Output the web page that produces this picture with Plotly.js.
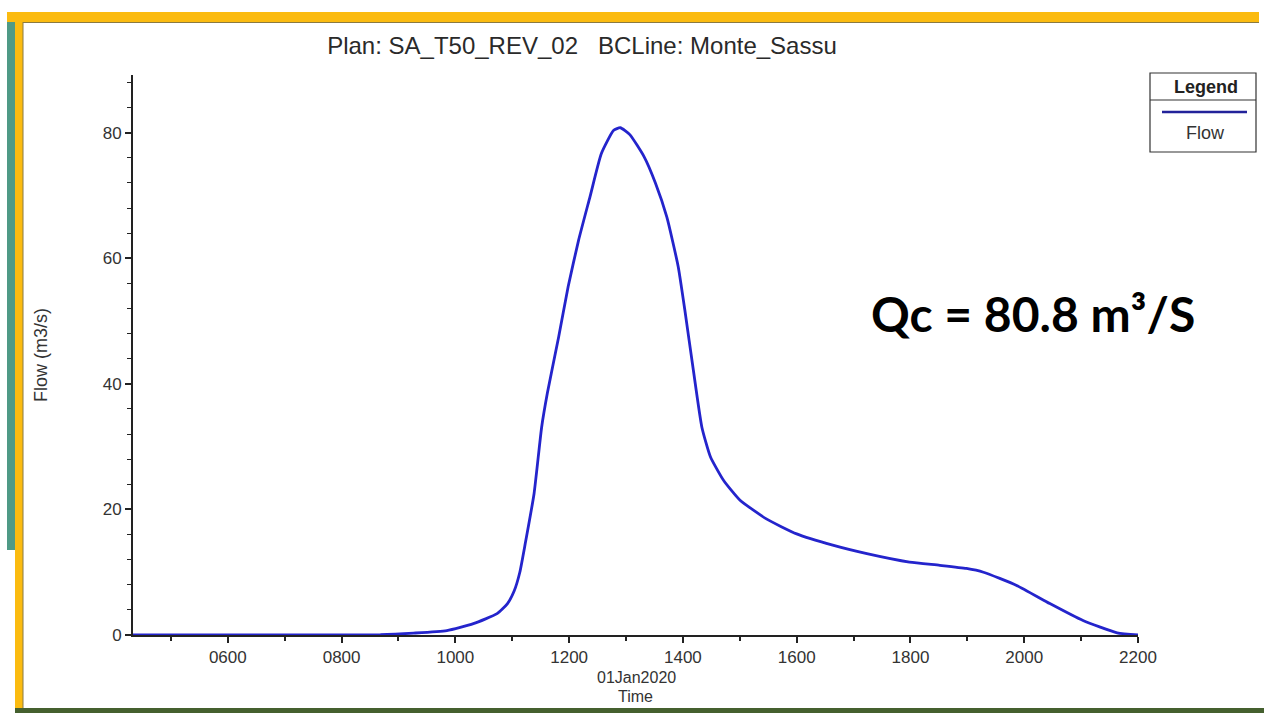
<!DOCTYPE html>
<html>
<head>
<meta charset="utf-8">
<script src="https://cdn.plot.ly/plotly-3.0.1.min.js"></script>
<style>
html,body{margin:0;padding:0;background:#fff;}
#chart{width:1264px;height:713px;}
</style>
</head>
<body>
<div id="chart"></div>
<script>
// ---- data ----
const seriesName = "Flow";
const times = [
  "2020-01-01 04:00","2020-01-01 08:41","2020-01-01 09:16","2020-01-01 09:51","2020-01-01 10:19",
  "2020-01-01 10:44","2020-01-01 10:55","2020-01-01 11:02","2020-01-01 11:08","2020-01-01 11:14",
  "2020-01-01 11:23","2020-01-01 11:31","2020-01-01 11:37","2020-01-01 11:49","2020-01-01 11:59",
  "2020-01-01 12:10","2020-01-01 12:22","2020-01-01 12:34","2020-01-01 12:47","2020-01-01 12:54",
  "2020-01-01 13:04","2020-01-01 13:19","2020-01-01 13:31","2020-01-01 13:43","2020-01-01 13:55",
  "2020-01-01 14:02","2020-01-01 14:11","2020-01-01 14:20","2020-01-01 14:29","2020-01-01 14:43",
  "2020-01-01 15:00","2020-01-01 15:28","2020-01-01 16:00","2020-01-01 16:38","2020-01-01 17:14",
  "2020-01-01 17:59","2020-01-01 18:31","2020-01-01 18:59","2020-01-01 19:17","2020-01-01 19:52",
  "2020-01-01 20:27","2020-01-01 21:02","2020-01-01 21:38","2020-01-01 22:00"
];
const flow = [
  0, 0.05, 0.3, 0.7, 1.8,
  3.4, 5.0, 7.0, 10.0, 14.8,
  22.5, 33.1, 38.5, 47.5, 55.5,
  62.9, 69.8, 76.7, 80.4, 80.8,
  79.7, 76.2, 72.0, 66.6, 58.7,
  51.8, 42.2, 33.1, 28.4, 24.6,
  21.5, 18.5, 16.1, 14.3, 12.95,
  11.6, 11.1, 10.6, 10.0, 7.9,
  5.0, 2.3, 0.35, 0
];
const xRange = ["2020-01-01 04:20", "2020-01-01 22:00"];
const yRange = [0, 89.2];
const yTickStep = 20;
const chartTitle = "Plan: SA_T50_REV_02&nbsp;&nbsp;&nbsp;BCLine: Monte_Sassu";
const xTitle = "Time";
const dateLabel = "01Jan2020";
const yTitle = "Flow (m3/s)";
const legendHeader = "Legend";
const noteText = "Qc = 80.8 m³/S";

// ---- layout geometry (pixels) ----
const W = 1264, H = 713;
const L = 133, R = 1138, T = 75, B = 635;
const px = x => (x - L) / (R - L);
const py = y => (B - y) / (B - T);
const FONT = "Liberation Sans, Arial, sans-serif";

const frameShapes = [
  {type:"rect", xref:"paper", yref:"paper", x0:px(7), x1:px(15), y0:py(12), y1:py(550), fillcolor:"#4f9a86", line:{width:0}},
  {type:"rect", xref:"paper", yref:"paper", x0:px(15), x1:px(23), y0:py(12), y1:py(709), fillcolor:"#fbbb10", line:{width:0}},
  {type:"rect", xref:"paper", yref:"paper", x0:px(7), x1:px(1259), y0:py(12), y1:py(22), fillcolor:"#fbbb10", line:{width:0}},
  {type:"line", xref:"paper", yref:"paper", x0:px(23), x1:px(23), y0:py(22), y1:py(708), line:{color:"#8a7a40", width:1}},
  {type:"line", xref:"paper", yref:"paper", x0:px(23), x1:px(1259), y0:py(22.5), y1:py(22.5), line:{color:"#8a7a40", width:1}},
  {type:"rect", xref:"paper", yref:"paper", x0:px(15), x1:px(1264), y0:py(708), y1:py(713), fillcolor:"#45602f", line:{width:0}},
  // legend box
  {type:"rect", xref:"paper", yref:"paper", x0:px(1150), x1:px(1256), y0:py(73), y1:py(152), fillcolor:"#ffffff", line:{color:"#333333", width:1.2}},
  {type:"line", xref:"paper", yref:"paper", x0:px(1150), x1:px(1256), y0:py(100), y1:py(100), line:{color:"#333333", width:1.2}},
  {type:"line", xref:"paper", yref:"paper", x0:px(1162), x1:px(1247), y0:py(112), y1:py(112), line:{color:"#22229a", width:2.5}}
];

const trace = {
  type: "scatter",
  mode: "lines",
  name: seriesName,
  x: times,
  y: flow,
  line: {color: "#2424cc", width: 2.8, shape: "spline", smoothing: 0.5},
  showlegend: false,
  hoverinfo: "x+y"
};

const tickFont = {family: FONT, size: 17, color: "#333333"};

const layout = {
  width: W, height: H,
  margin: {l: L, r: W - R, t: T, b: H - B, pad: 0},
  paper_bgcolor: "#ffffff",
  plot_bgcolor: "#ffffff",
  showlegend: false,
  title: {
    text: chartTitle,
    font: {family: FONT, size: 24, color: "#2a2a2a"},
    x: 582 / W, xref: "container", xanchor: "center",
    y: 1 - 46 / H, yref: "container", yanchor: "middle"
  },
  xaxis: {
    type: "date",
    range: xRange,
    showgrid: false, zeroline: false,
    showline: true, linecolor: "#222222", linewidth: 2,
    ticks: "outside", ticklen: 6, tickwidth: 1.5, tickcolor: "#222222",
    tick0: "2020-01-01 00:00", dtick: 7200000,
    tickformat: "%H%M",
    tickfont: tickFont,
    minor: {ticks: "outside", ticklen: 4, tickwidth: 1.5, tickcolor: "#222222", dtick: 3600000, tick0: "2020-01-01 00:00", showgrid: false},
    title: {text: xTitle, font: {family: FONT, size: 16, color: "#333333"}, standoff: 24},
    automargin: false
  },
  yaxis: {
    range: yRange,
    showgrid: false, zeroline: false,
    showline: true, linecolor: "#222222", linewidth: 2,
    ticks: "outside", ticklen: 6, tickwidth: 1.5, tickcolor: "#222222",
    tick0: 0, dtick: yTickStep,
    tickfont: tickFont,
    minor: {ticks: "outside", ticklen: 4, tickwidth: 1.2, tickcolor: "#222222", dtick: 4, showgrid: false},
    title: {text: yTitle, font: {family: FONT, size: 18, color: "#333333"}, standoff: 50},
    automargin: false
  },
  shapes: frameShapes,
  annotations: [
    {xref:"paper", yref:"paper", x:px(1206), y:py(87), text:"<b>" + legendHeader + "</b>", showarrow:false,
     xanchor:"center", yanchor:"middle", font:{family:FONT, size:18, color:"#222222"}},
    {xref:"paper", yref:"paper", x:px(1205), y:py(133), text:seriesName, showarrow:false,
     xanchor:"center", yanchor:"middle", font:{family:FONT, size:18, color:"#333333"}},
    {xref:"paper", yref:"paper", x:px(636), y:py(677), text:dateLabel, showarrow:false,
     xanchor:"center", yanchor:"middle", font:{family:FONT, size:16, color:"#333333"}},
    {xref:"paper", yref:"paper", x:px(1033), y:py(313), text:"<b>" + noteText + "</b>", showarrow:false,
     xanchor:"center", yanchor:"middle", font:{family:"Lato, Open Sans, sans-serif", size:48, color:"#000000"}}
  ]
};

Plotly.newPlot("chart", [trace], layout, {displayModeBar: false});
</script>
</body>
</html>
